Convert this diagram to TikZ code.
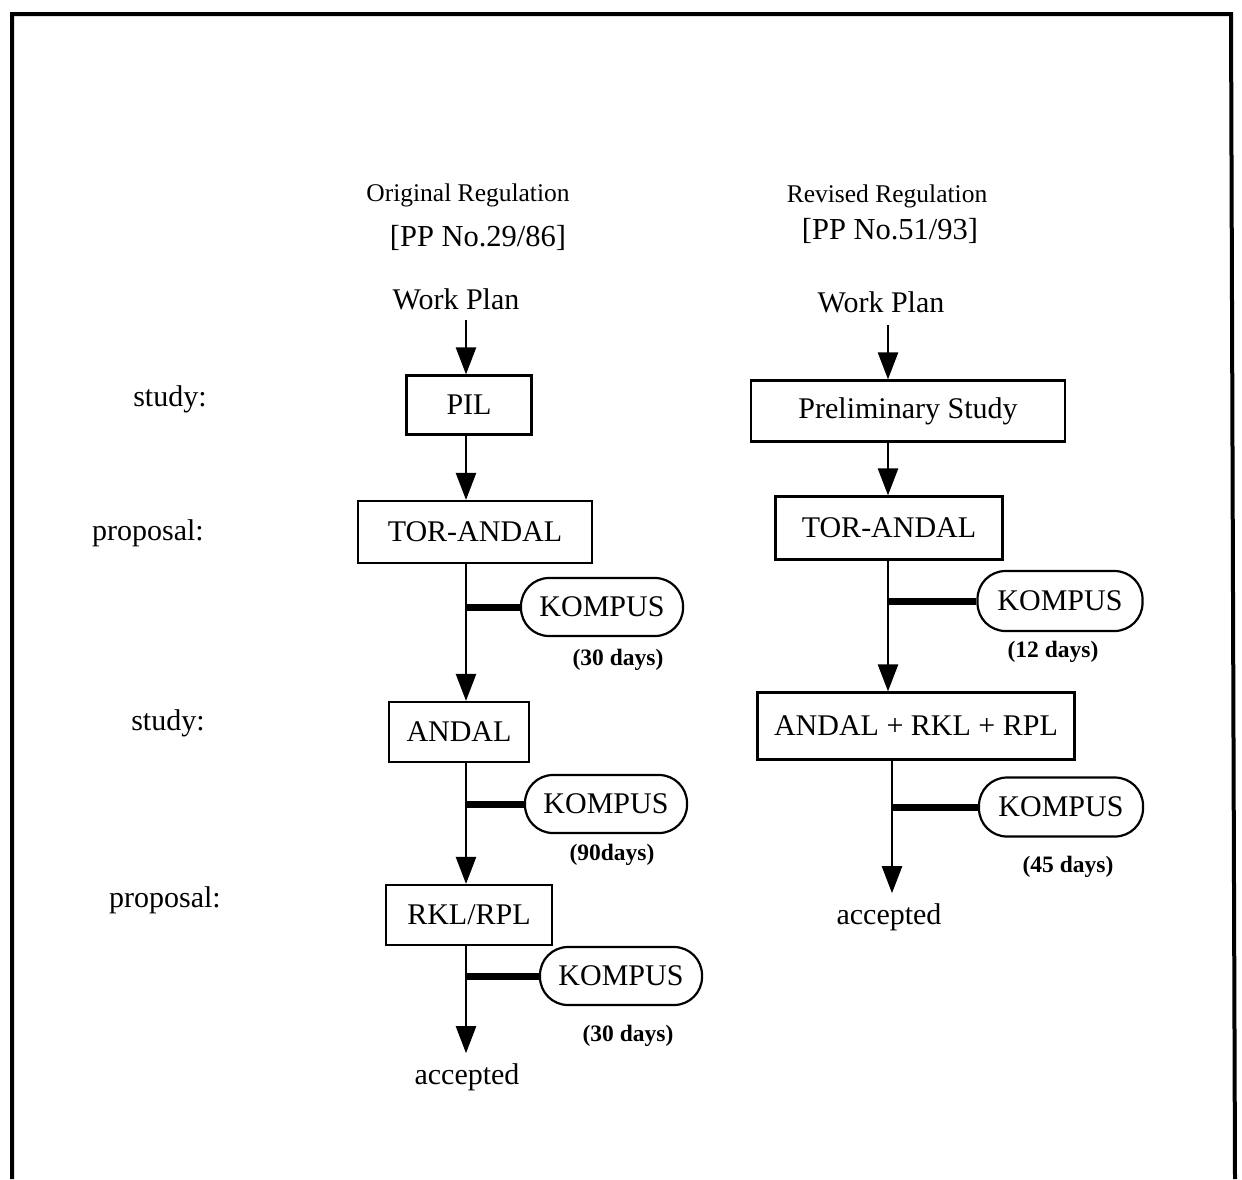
\documentclass[tikz,border=0pt]{standalone}
\usepackage{fontspec}
\setmainfont{Liberation Serif}
\usetikzlibrary{arrows.meta}
\begin{document}
\begin{tikzpicture}[x=1pt,y=-1pt,
  stepbox/.style={draw, line width=2.2pt, inner sep=0pt, font=\fontsize{30}{32}\selectfont},
  kbox/.style={draw, line width=2.2pt, rounded corners=28pt, inner sep=0pt, minimum width=162pt, minimum height=58pt, font=\fontsize{30}{32}\selectfont},
  arr/.style={line width=2.4pt, -{Triangle[length=27pt,width=20pt]}},
  bar/.style={line width=7pt},
  lbl/.style={inner sep=0pt, font=\fontsize{30}{32}\selectfont},
  days/.style={inner sep=0pt, font=\bfseries\fontsize{23.5}{26}\selectfont},
  head/.style={inner sep=0pt, font=\fontsize{25.5}{28}\selectfont},
  sub/.style={inner sep=0pt, font=\fontsize{30.5}{32}\selectfont}]
\useasboundingbox (0,0) rectangle (1242,1179);
% frame
\draw[line width=4pt] (12,1179) -- (12,14) -- (1231,14) -- (1235,1179);

\coordinate (colL) at (466,0);
\coordinate (colR) at (888,0);
\coordinate (colR2) at (892,0);

% left labels
\node[lbl] (s1) at (170,399) {study:};
\node[lbl] (p1) at (148,533) {proposal:};
\node[lbl] (s2) at (168,723) {study:};
\node[lbl] (p2) at (165,900) {proposal:};

% left column
\node[head] (hL) at (468,195) {Original Regulation};
\node[sub] (rL) at (478,238) {[PP No.29/86]};
\node[lbl] (wpL) at (456,299) {Work Plan};
\node[stepbox, minimum width=125pt, minimum height=59pt] (pil) at (469,405) {PIL};
\node[stepbox, minimum width=234pt, minimum height=62pt] (torL) at (475,532) {TOR-ANDAL};
\node[kbox] (k1) at (602,607) {KOMPUS};
\node[days] (d1) at (618,660) {(30 days)};
\node[stepbox, minimum width=140pt, minimum height=60pt] (andL) at (459,732) {ANDAL};
\node[kbox] (k2) at (606,804) {KOMPUS};
\node[days] (d2) at (612,855) {(90days)};
\node[stepbox, minimum width=166pt, minimum height=60pt] (rkl) at (469,915) {RKL/RPL};
\node[kbox] (k3) at (621,976) {KOMPUS};
\node[days] (d3) at (628,1036) {(30 days)};
\node[lbl] (accL) at (467,1077) {accepted};

\draw[arr] ([yshift=-10pt]wpL.south -| colL) -- (pil.north -| colL);
\draw[arr] (pil.south -| colL) -- (torL.north -| colL);
\draw[arr] (torL.south -| colL) -- (andL.north -| colL);
\draw[bar] (k1.west) -- (k1.west -| colL);
\draw[arr] (andL.south -| colL) -- (rkl.north -| colL);
\draw[bar] (k2.west) -- (k2.west -| colL);
\draw[arr] (rkl.south -| colL) -- ([yshift=10pt]accL.north -| colL);
\draw[bar] (k3.west) -- (k3.west -| colL);

% right column
\node[head] (hR) at (887,196) {Revised Regulation};
\node[sub] (rR) at (890,231) {[PP No.51/93]};
\node[lbl] (wpR) at (881,302) {Work Plan};
\node[stepbox, minimum width=314pt, minimum height=61pt] (ps) at (908,411) {Preliminary Study};
\node[stepbox, minimum width=227pt, minimum height=63pt] (torR) at (889,528) {TOR-ANDAL};
\node[kbox, minimum width=165pt, minimum height=60pt] (k4) at (1060,601) {KOMPUS};
\node[days] (d4) at (1053,652) {(12 days)};
\node[stepbox, minimum width=317pt, minimum height=67pt] (arp) at (916,726) {ANDAL + RKL + RPL};
\node[kbox, minimum width=164pt, minimum height=59pt] (k5) at (1061,807) {KOMPUS};
\node[days] (d5) at (1068,867) {(45 days)};
\node[lbl] (accR) at (889,917) {accepted};

\draw[arr] ([yshift=-12pt]wpR.south -| colR) -- (ps.north -| colR);
\draw[arr] (ps.south -| colR) -- (torR.north -| colR);
\draw[arr] (torR.south -| colR) -- (arp.north -| colR);
\draw[bar] (k4.west) -- (k4.west -| colR);
\draw[arr] (arp.south -| colR2) -- ([yshift=10pt]accR.north -| colR2);
\draw[bar] (k5.west) -- (k5.west -| colR2);
\end{tikzpicture}
\end{document}
